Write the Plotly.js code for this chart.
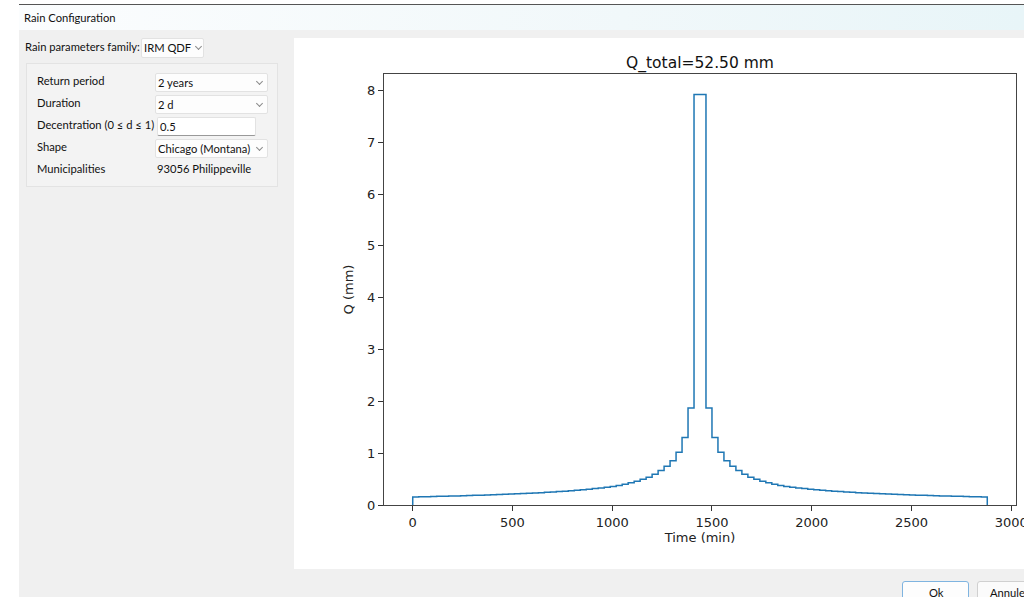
<!DOCTYPE html>
<html>
<head>
<meta charset="utf-8">
<script src="https://cdn.plot.ly/plotly-3.0.1.min.js"></script>
<style>
  html, body { margin:0; padding:0; width:1024px; height:597px; overflow:hidden; background:#ffffff; font-family:Lato, "Noto Sans", sans-serif; font-size:11.2px; color:#111; }
  .abs { position:absolute; }
  #titlebar { left:19px; top:4px; width:1005px; height:26px; background:linear-gradient(to right,#fbfdfe 0%,#f1f8fa 60%,#e8f5f8 100%); border-top:1px solid #555; }
  #titlebar span { position:absolute; left:5px; top:6px; color:#111; }
  #client { left:19px; top:30px; width:1005px; height:567px; background:#f0f0f0; }
  .combo { position:absolute; background:#fdfdfd; border:1px solid #e2e2e2; border-radius:2px; box-sizing:border-box; }
  .combo span { position:absolute; left:2px; top:2px; white-space:nowrap; }
  .chev { position:absolute; width:4px; height:4px; border-right:1px solid #8a8a8a; border-bottom:1px solid #8a8a8a; transform:rotate(45deg); }
  .lbl { position:absolute; white-space:nowrap; }
  #group { left:26px; top:63px; width:252px; height:124px; border:1px solid #e3e3e3; background:#f3f3f3; box-sizing:border-box; }
  #plot { left:294px; top:38px; width:730px; height:531px; background:#ffffff; }
  .btn { position:absolute; box-sizing:border-box; border-radius:3px; }
</style>
</head>
<body>
<div id="titlebar" class="abs"><span>Rain Configuration</span></div>
<div id="client" class="abs"></div>

<div class="lbl" style="left:25px;top:40px;">Rain parameters family:</div>
<div class="combo" style="left:141px;top:38px;width:63px;height:20px;"><span>IRM QDF</span><div class="chev" style="left:54px;top:5px;"></div></div>

<div id="group" class="abs"></div>
<div class="lbl" style="left:37px;top:74px;">Return period</div>
<div class="combo" style="left:155px;top:73px;width:113px;height:19px;"><span>2 years</span><div class="chev" style="left:101px;top:5px;"></div></div>
<div class="lbl" style="left:37px;top:96px;">Duration</div>
<div class="combo" style="left:155px;top:95px;width:113px;height:19px;"><span>2 d</span><div class="chev" style="left:101px;top:5px;"></div></div>
<div class="lbl" style="left:37px;top:118px;">Decentration (0 ≤ d ≤ 1)</div>
<div class="combo" style="left:157px;top:117px;width:99px;height:19px;background:#ffffff;border-bottom:1px solid #999;"><span>0.5</span></div>
<div class="lbl" style="left:37px;top:140px;">Shape</div>
<div class="combo" style="left:155px;top:139px;width:113px;height:19px;"><span>Chicago (Montana)</span><div class="chev" style="left:101px;top:5px;"></div></div>
<div class="lbl" style="left:37px;top:162px;">Municipalities</div>
<div class="lbl" style="left:157px;top:162px;">93056 Philippeville</div>

<div id="plot" class="abs"></div>

<div class="btn" style="left:902px;top:581px;width:67px;height:22px;background:#fdfdfd;border:1px solid #7fb4e0;"><span style="position:absolute;left:26px;top:4px;">Ok</span></div>
<div class="btn" style="left:977px;top:581px;width:67px;height:22px;background:#fbfbfb;border:1px solid #d0d0d0;"><span style="position:absolute;left:12px;top:4px;">Annuler</span></div>

<script>
// Time edges of the 30-minute rain blocks (minutes)
const timeEdges = [0,30,60,90,120,150,180,210,240,270,300,330,360,390,420,450,480,510,540,570,
  600,630,660,690,720,750,780,810,840,870,900,930,960,990,1020,1050,1080,1110,1140,1170,
  1200,1230,1260,1290,1320,1350,1380,1410,1440,1470,1500,1530,1560,1590,1620,1650,1680,1710,1740,1770,
  1800,1830,1860,1890,1920,1950,1980,2010,2040,2070,2100,2130,2160,2190,2220,2250,2280,2310,2340,2370,
  2400,2430,2460,2490,2520,2550,2580,2610,2640,2670,2700,2730,2760,2790,2820,2850,2880];

// Rain depth per block (mm)
const blockDepth = [
  0.155,0.158,0.161,0.164,0.167,0.170,0.173,0.176,0.179,0.182,0.186,0.189,0.193,0.197,0.201,0.206,
  0.210,0.215,0.220,0.226,0.232,0.238,0.244,0.251,0.259,0.267,0.275,0.284,0.294,0.305,0.316,0.328,
  0.341,0.358,0.378,0.401,0.428,0.460,0.495,0.535,0.595,0.665,0.750,0.855,1.020,1.300,1.870,7.920,
  7.920,1.870,1.300,1.020,0.855,0.750,0.665,0.595,0.535,0.495,0.460,0.428,0.401,0.378,0.358,0.341,
  0.328,0.316,0.305,0.294,0.284,0.275,0.267,0.259,0.251,0.244,0.238,0.232,0.226,0.220,0.215,0.210,
  0.206,0.201,0.197,0.193,0.189,0.186,0.182,0.179,0.176,0.173,0.170,0.167,0.164,0.161,0.158,0.155];

const chartTitle = "Q_total=52.50 mm";
const xTicks = [0,500,1000,1500,2000,2500,3000];
const yTicks = [0,1,2,3,4,5,6,7,8];

// step line: start at 0, each block value held over its 30 min, drop back to 0 at the end
const xs = [timeEdges[0]];
const ys = [0];
for (let i = 0; i < blockDepth.length; i++) { xs.push(timeEdges[i]); ys.push(blockDepth[i]); }
xs.push(timeEdges[timeEdges.length-1]); ys.push(0);

const axisFont = {family:"DejaVu Sans, sans-serif", size:13, color:"#222"};
const trace = {x:xs, y:ys, type:"scatter", mode:"lines", line:{shape:"hv", color:"#1f77b4", width:1.5}, hoverinfo:"skip"};
const layout = {
  width:730, height:531,
  margin:{l:90, r:8, t:36, b:64},
  paper_bgcolor:"#ffffff", plot_bgcolor:"#ffffff",
  showlegend:false,
  title:{text:chartTitle, font:{family:"DejaVu Sans, sans-serif", size:15.5, color:"#111"}, x:0.5, xref:"paper", xanchor:"center", y:1, yref:"paper", yanchor:"bottom", pad:{b:6}},
  xaxis:{range:[-144,3024], tickvals:xTicks, ticktext:xTicks.map(String), ticks:"outside", ticklen:5, tickwidth:1, tickcolor:"#333",
         ticklabeloverflow:"allow",
         showline:true, mirror:true, linecolor:"#444", linewidth:1, showgrid:false, zeroline:false, tickfont:axisFont,
         title:{text:"Time (min)", font:axisFont, standoff:3}, automargin:false},
  yaxis:{range:[0,8.316], tickvals:yTicks, ticktext:yTicks.map(String), ticks:"outside", ticklen:5, tickwidth:1, tickcolor:"#333",
         showline:true, mirror:true, linecolor:"#444", linewidth:1, showgrid:false, zeroline:false, tickfont:axisFont,
         title:{text:"Q (mm)", font:axisFont, standoff:10}, automargin:false}
};
Plotly.newPlot("plot", [trace], layout, {displayModeBar:false, staticPlot:true});
</script>
</body>
</html>
